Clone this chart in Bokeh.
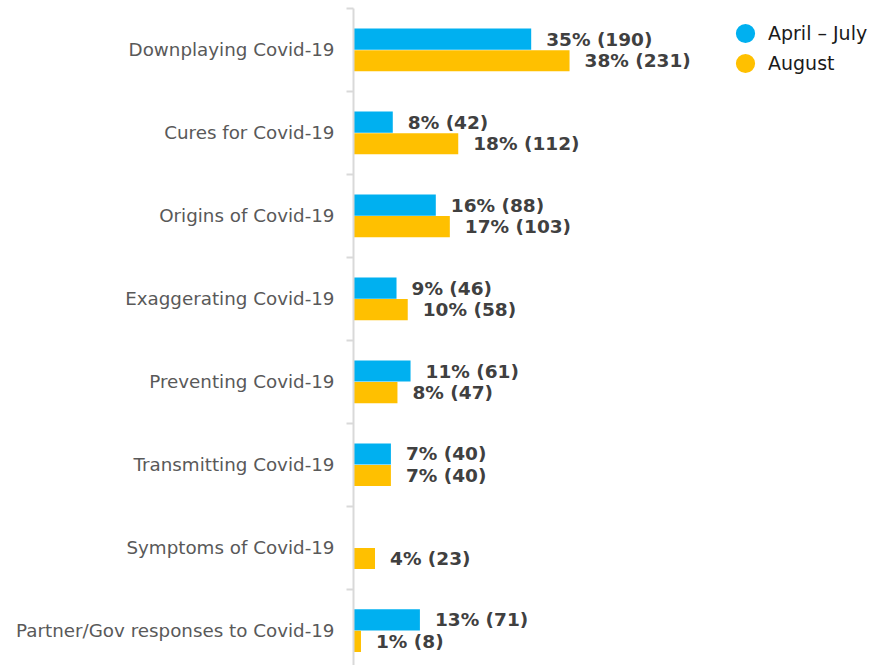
from bokeh.plotting import figure
from bokeh.models import Range1d, FixedTicker, ColumnDataSource, Legend, LegendItem
from bokeh.core.properties import value
from bokeh.embed import file_html
from bokeh.resources import INLINE

categories = ["Downplaying Covid-19", "Cures for Covid-19", "Origins of Covid-19",
              "Exaggerating Covid-19", "Preventing Covid-19", "Transmitting Covid-19",
              "Symptoms of Covid-19", "Partner/Gov responses to Covid-19"]
apr_pct = [35, 8, 16, 9, 11, 7, None, 13]
apr_n = [190, 42, 88, 46, 61, 40, None, 71]
aug_pct = [38, 18, 17, 10, 8, 7, 4, 1]
aug_n = [231, 112, 103, 58, 47, 40, 23, 8]
series_names = ["April \u2013 July", "August"]

BLUE = "#00B0F0"
YELLOW = "#FFC000"
FONT = "DejaVu Sans"

p = figure(width=873, height=665, output_backend="svg", toolbar_location=None,
           x_range=Range1d(0, 556), y_range=Range1d(7.92, 0),
           x_axis_location=None, min_border_left=353, min_border_right=0,
           min_border_top=8, min_border_bottom=0)
p.outline_line_color = None
p.xgrid.visible = False
p.ygrid.visible = False

centers = [i + 0.5 for i in range(len(categories))]
off = 0.13
bh = 0.255

def build(pcts, ns, shift):
    ys, xs, labels = [], [], []
    for i, (pc, n) in enumerate(zip(pcts, ns)):
        if n is None:
            continue
        ys.append(centers[i] + shift)
        xs.append(n)
        labels.append(f"{pc}% ({n})")
    return ColumnDataSource(dict(y=ys, x=xs, label=labels))

src_a = build(apr_pct, apr_n, -off)
src_b = build(aug_pct, aug_n, off)

for src, col in ((src_a, BLUE), (src_b, YELLOW)):
    p.hbar(y="y", left=0, right="x", height=bh, source=src, fill_color=col,
           line_color=None)
    p.text(x="x", y="y", text="label", source=src, x_offset=15,
           text_baseline="middle", text_align="left", text_font=value(FONT),
           text_font_style="bold", text_font_size="18.5px", text_color="#404040")

ax = p.yaxis[0]
ax.ticker = FixedTicker(ticks=centers, minor_ticks=[float(i) for i in range(len(categories) + 1)])
ax.major_label_overrides = {c: lab for c, lab in zip(centers, categories)}
ax.major_tick_line_color = None
ax.major_tick_out = 0
ax.major_tick_in = 0
ax.minor_tick_line_color = "#D9D9D9"
ax.minor_tick_out = 7
ax.minor_tick_in = 0
ax.minor_tick_line_width = 2
ax.axis_line_color = "#D9D9D9"
ax.axis_line_width = 2
ax.major_label_standoff = 12
ax.major_label_text_font = FONT
ax.major_label_text_font_size = "18.3px"
ax.major_label_text_color = "#595959"

nan = float("nan")
r1 = p.ellipse(x=[nan], y=[nan], width=19, height=19, width_units="screen",
               height_units="screen", fill_color=BLUE, line_color=None)
r2 = p.ellipse(x=[nan], y=[nan], width=19, height=19, width_units="screen",
               height_units="screen", fill_color=YELLOW, line_color=None)
legend = Legend(items=[LegendItem(label=series_names[0], renderers=[r1]),
                       LegendItem(label=series_names[1], renderers=[r2])],
                location=(380, 590), border_line_color=None, background_fill_alpha=0,
                label_text_font=FONT, label_text_font_size="19px", label_text_color="#1a1a1a",
                glyph_width=24, glyph_height=24, label_height=24, spacing=6, label_standoff=11,
                padding=10, margin=0)
p.add_layout(legend)

open("out.html", "w").write(file_html(p, INLINE))
